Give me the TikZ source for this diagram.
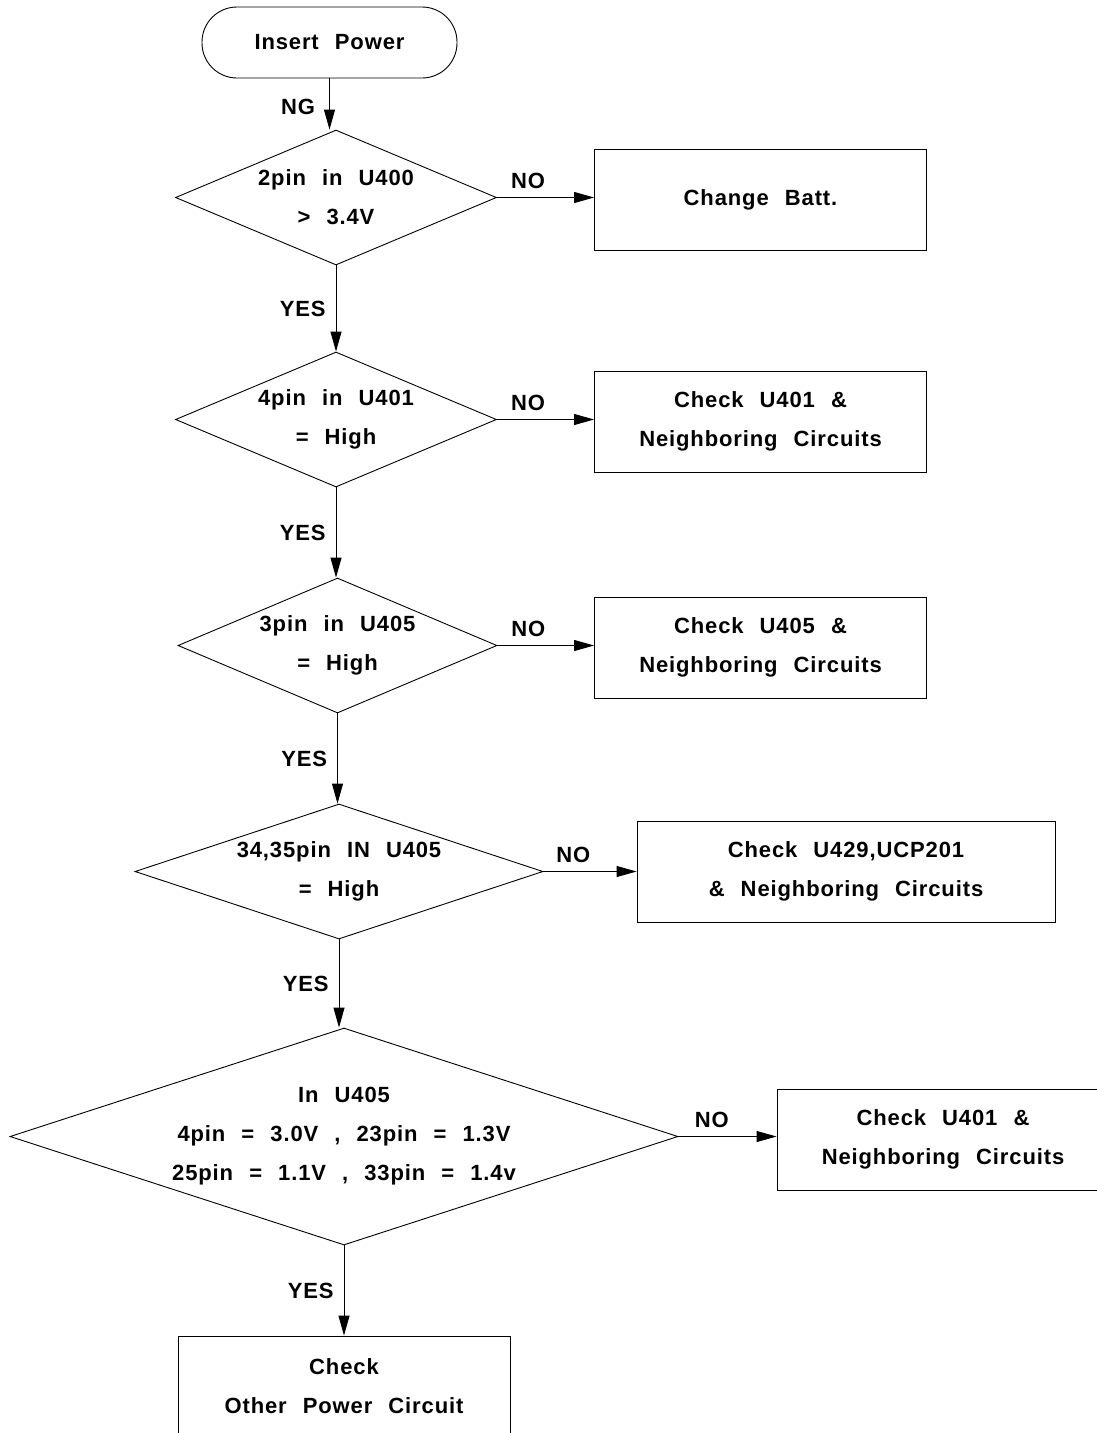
\documentclass[tikz,border=0pt]{standalone}
\usepackage{fontspec}
\newfontfamily\flowfont{Liberation Sans Bold}[WordSpace=2.3,LetterSpace=4]
\usetikzlibrary{shapes.geometric,arrows.meta,positioning}

\begin{document}
\begin{tikzpicture}[x=1pt,y=-1pt,line width=0.9pt,
                    every node/.style={font=\flowfont\fontsize{22}{39}\selectfont},
                    startbox/.style={draw, rounded corners=35pt, minimum width=255pt, minimum height=71pt},
                    test/.style={draw, diamond, inner sep=0pt, align=center},
                    result/.style={draw, minimum width=332pt, minimum height=101pt, align=center},
                    answer/.style={inner sep=0pt},
                    arr/.style={-{Triangle[length=20pt,width=11pt]}}]
\useasboundingbox (0,0) rectangle (1097,1433);

% start and checks
\node[startbox] (power) at (329.5,42.5) {Insert Power};
\node[test, minimum width=321pt, minimum height=135pt, aspect=2.38] (batt) at (336,197.5) {2pin in U400\\> 3.4V};
\node[test, minimum width=321pt, minimum height=135pt, aspect=2.38] (uA) at (336,419.5) {4pin in U401\\= High};
\node[test, minimum width=319pt, minimum height=135pt, aspect=2.36] (uB) at (337.5,645.5) {3pin in U405\\= High};
\node[test, minimum width=408pt, minimum height=135pt, aspect=3.02] (uC) at (339,871.5) {34,35pin IN U405\\= High};
\node[test, minimum width=668pt, minimum height=217pt, aspect=3.08] (uD) at (344,1136.5) {In U405\\4pin = 3.0V , 23pin = 1.3V\\25pin = 1.1V , 33pin = 1.4v};

% results
\node[result] (changebatt) at (760.5,199.5) {Change Batt.};
\node[result] (fixA) at (760.5,421.5) {Check U401 \&\\Neighboring Circuits};
\node[result] (fixB) at (760.5,647.5) {Check U405 \&\\Neighboring Circuits};
\node[result, minimum width=418pt] (fixC) at (846,871.5) {Check U429,UCP201\\\& Neighboring Circuits};
\node[result] (fixD) at (943,1139.5) {Check U401 \&\\Neighboring Circuits};
\node[result] (other) at (344,1386.5) {Check\\Other Power Circuit};

% YES path
\draw[arr] (power.south) -- node[answer, left=14pt, pos=0.55] {NG} (power.south |- batt.north);
\draw[arr] (batt.south) -- node[answer, left=10pt] {YES} (uA.north);
\draw[arr] (uA.south) -- node[answer, left=10pt] {YES} (uA.south |- uB.north);
\draw[arr] (uB.south) -- node[answer, left=10pt] {YES} (uB.south |- uC.north);
\draw[arr] (uC.south) -- node[answer, left=10pt] {YES} (uC.south |- uD.north);
\draw[arr] (uD.south) -- node[answer, left=10pt] {YES} (other.north);

% NO path
\draw[arr] (batt.east) -- node[answer, pos=0.32, above=8pt] {NO} (batt.east -| changebatt.west);
\draw[arr] (uA.east) -- node[answer, pos=0.32, above=8pt] {NO} (uA.east -| fixA.west);
\draw[arr] (uB.east) -- node[answer, pos=0.32, above=8pt] {NO} (uB.east -| fixB.west);
\draw[arr] (uC.east) -- node[answer, pos=0.32, above=8pt] {NO} (uC.east -| fixC.west);
\draw[arr] (uD.east) -- node[answer, pos=0.34, above=8pt] {NO} (uD.east -| fixD.west);
\end{tikzpicture}
\end{document}
